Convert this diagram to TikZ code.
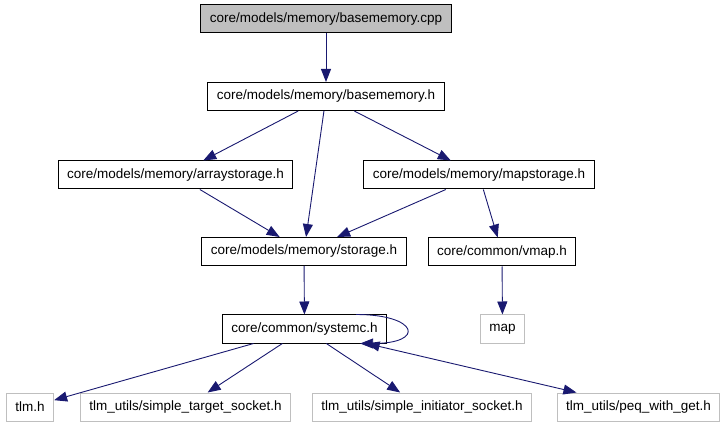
\documentclass[tikz,border=0pt]{standalone}
\usepackage{fontspec}
\setmainfont{Liberation Sans}
\usepackage{tikz}
\usetikzlibrary{arrows.meta,calc,positioning}
\definecolor{edgeblue}{HTML}{191970}
\definecolor{boxgray}{HTML}{BFBFBF}
\begin{document}
\begin{tikzpicture}[x=1pt,y=-1pt,>={Triangle[length=13pt,width=10pt]},
  file/.style={draw=black,line width=1pt,minimum height=28pt,inner xsep=9pt,
    font=\fontsize{13.5}{15}\selectfont},
  extfile/.style={file,draw=boxgray},
  edge/.style={->,edgeblue,line width=0.9pt}]
\useasboundingbox (0,0) rectangle (725,427);
\node[file,fill=boxgray] (bmcpp) at (326,19){core/models/memory/basememory.cpp};
\node[file] (bmh) at (326,96.5){core/models/memory/basememory.h};
\node[file] (arr) at (175.5,175){core/models/memory/arraystorage.h};
\node[file] (mapst) at (479,175){core/models/memory/mapstorage.h};
\node[file] (stor) at (304,251.5){core/models/memory/storage.h};
\node[file] (vmap) at (502,252){core/common/vmap.h};
\node[file] (sysc) at (304.5,329){core/common/systemc.h};
\node[extfile] (map) at (502.5,329){map};
\node[extfile] (tlm) at (30,407){tlm.h};
\node[extfile] (tgt) at (185.5,407){tlm\_utils/simple\_target\_socket.h};
\node[extfile] (ini) at (422,407){tlm\_utils/simple\_initiator\_socket.h};
\node[extfile] (peq) at (638.5,407){tlm\_utils/peq\_with\_get.h};
\draw[edge] (bmcpp)--(bmh);
\draw[edge] (bmh)--(arr);
\draw[edge] (bmh)--(stor);
\draw[edge] (bmh)--(mapst);
\draw[edge] (arr)--(stor);
\draw[edge] (mapst)--(stor);
\draw[edge] (mapst)--(vmap);
\draw[edge] (stor)--(sysc);
\draw[edge] (vmap)--(map);
\draw[edge] ([xshift=-31pt]sysc.north east) .. controls +(62,0) and +(66,0) .. ([xshift=-27pt]sysc.south east);
\draw[edge] (sysc)--(tlm);
\draw[edge] (sysc)--(tgt);
\draw[edge] (sysc)--(ini);
\draw[edge,<->] (sysc)--(peq);
\end{tikzpicture}
\end{document}
